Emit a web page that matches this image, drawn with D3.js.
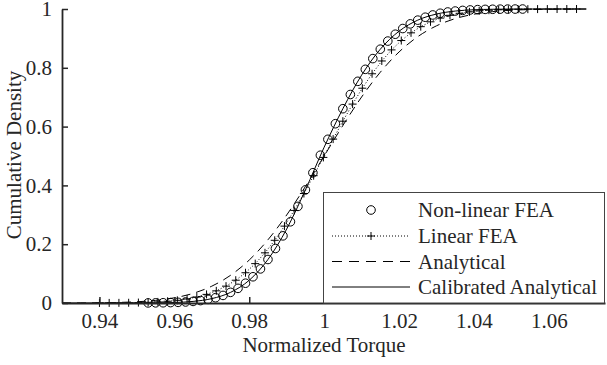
<!DOCTYPE html>
<html>
<head>
<meta charset="utf-8">
<script src="https://cdn.jsdelivr.net/npm/d3@7/dist/d3.min.js"></script>
<style>
  html, body { margin: 0; padding: 0; background: #fff; }
  svg { display: block; }
  svg text { font-family: "Liberation Serif", Tinos, "Times New Roman", Times, "Nimbus Roman", "DejaVu Serif", serif !important; fill: #262626; }
</style>
</head>
<body>
<svg id="chart" width="607" height="365"></svg>
<script>
// ---------- data ----------
const nonLinearX = [0.953,0.955,0.957,0.959,0.961,0.963,0.965,0.967,0.969,0.971,0.973,0.975,0.977,0.979,0.981,0.983,0.985,0.987,0.989,0.991,0.993,0.995,0.997,0.999,1.001,1.003,1.005,1.007,1.009,1.011,1.013,1.015,1.017,1.019,1.021,1.023,1.025,1.027,1.029,1.031,1.033,1.035,1.037,1.039,1.041,1.043,1.045,1.047,1.049,1.051,1.053];
const nonLinearY = [0.0003,0.0005,0.0008,0.0014,0.0022,0.0035,0.0054,0.0082,0.0123,0.0180,0.0258,0.0362,0.0498,0.0673,0.0892,0.1160,0.1480,0.1854,0.2284,0.2763,0.3286,0.3847,0.4431,0.5027,0.5568,0.6098,0.6609,0.7092,0.7540,0.7948,0.8313,0.8633,0.8909,0.9142,0.9336,0.9494,0.9621,0.9720,0.9797,0.9855,0.9898,0.9930,0.9952,0.9968,0.9979,0.9987,0.9991,0.9995,0.9997,0.9998,0.9999];

const linearX = [0.9400,0.9426,0.9452,0.9478,0.9504,0.9530,0.9556,0.9582,0.9608,0.9634,0.9660,0.9686,0.9712,0.9738,0.9764,0.9790,0.9816,0.9842,0.9868,0.9894,0.9920,0.9946,0.9972,0.9998,1.0024,1.0050,1.0076,1.0102,1.0128,1.0154,1.0180,1.0206,1.0232,1.0258,1.0284,1.0310,1.0336,1.0362,1.0388,1.0414,1.0440,1.0466,1.0492,1.0518,1.0544,1.0570,1.0596,1.0622,1.0648,1.0674];
const linearY = [0.0002,0.0003,0.0005,0.0008,0.0014,0.0023,0.0037,0.0059,0.0091,0.0137,0.0203,0.0293,0.0414,0.0573,0.0775,0.1029,0.1339,0.1706,0.2133,0.2615,0.3149,0.3725,0.4330,0.4952,0.5575,0.6184,0.6765,0.7306,0.7797,0.8232,0.8609,0.8927,0.9189,0.9399,0.9564,0.9691,0.9785,0.9854,0.9903,0.9937,0.9960,0.9975,0.9985,0.9991,0.9995,0.9997,0.9998,0.9999,1.0,1.0];

const curveX = [0.930,0.935,0.940,0.945,0.950,0.955,0.960,0.965,0.970,0.975,0.980,0.985,0.990,0.995,1.000,1.005,1.010,1.015,1.020,1.025,1.030,1.035,1.040,1.045,1.050,1.055,1.060,1.065,1.070];
const analyticalY = [0.0001,0.0003,0.0008,0.0019,0.0042,0.0089,0.0176,0.0327,0.0572,0.0941,0.1462,0.2150,0.2994,0.3963,0.5000,0.6037,0.7006,0.7850,0.8538,0.9059,0.9428,0.9673,0.9824,0.9911,0.9958,0.9981,0.9992,0.9997,0.9999];
const calibratedY = [0,0,0,0.00002,0.0001,0.0005,0.0017,0.0054,0.0149,0.0361,0.0774,0.1480,0.2517,0.3847,0.5298,0.6609,0.7749,0.8633,0.9244,0.9621,0.9828,0.9930,0.9974,0.9991,0.9997,0.9999,1.0,1.0,1.0];

const xTicks = [0.94,0.96,0.98,1.00,1.02,1.04,1.06];
const xTickLabels = ["0.94","0.96","0.98","1","1.02","1.04","1.06"];
const yTicks = [0,0.2,0.4,0.6,0.8,1];
const yTickLabels = ["0","0.2","0.4","0.6","0.8","1"];
const legendLabels = ["Non-linear FEA","Linear FEA","Analytical","Calibrated Analytical"];

// ---------- layout ----------
const svg = d3.select("#chart");
const mLeft = 62, mRight = 605, mTop = 9, mBottom = 303;
const x = d3.scaleLinear().domain([0.93, 1.075]).range([mLeft, mRight]);
const y = d3.scaleLinear().domain([0, 1]).range([mBottom, mTop]);
const ink = "#262626";
const FONT = '"Liberation Serif", Tinos, "Times New Roman", Times, "Nimbus Roman", "DejaVu Serif", serif';

const nl = nonLinearX.map((v,i)=>[v, nonLinearY[i]]);
const li = linearX.map((v,i)=>[v, linearY[i]]);
const an = curveX.map((v,i)=>[v, analyticalY[i]]);
const ca = curveX.map((v,i)=>[v, calibratedY[i]]);

const smooth = d3.line().x(d=>x(d[0])).y(d=>y(d[1])).curve(d3.curveMonotoneX);
const straight = d3.line().x(d=>x(d[0])).y(d=>y(d[1]));

const plot = svg.append("g");
plot.append("path").attr("d", smooth(an)).attr("fill","none").attr("stroke","#000")
  .attr("stroke-width",1).attr("stroke-dasharray","9,6");
plot.append("path").attr("d", smooth(ca)).attr("fill","none").attr("stroke","#000")
  .attr("stroke-width",1);
plot.append("path").attr("d", straight(li)).attr("fill","none").attr("stroke","#000")
  .attr("stroke-width",1).attr("stroke-dasharray","1,2");
const crossPath = "M-4,0H4M0,-4V4";
plot.selectAll(".cross").data(li).enter().append("path").attr("class","cross")
  .attr("transform", d=>`translate(${x(d[0])},${y(d[1])})`)
  .attr("d", crossPath).attr("stroke","#000").attr("stroke-width",1).attr("fill","none");
plot.selectAll(".circ").data(nl).enter().append("circle").attr("class","circ")
  .attr("cx", d=>x(d[0])).attr("cy", d=>y(d[1])).attr("r",4.3)
  .attr("fill","none").attr("stroke","#000").attr("stroke-width",1);

// ---------- axes ----------
const xAxis = d3.axisBottom(x).tickValues(xTicks).tickFormat((d,i)=>xTickLabels[i])
  .tickSizeInner(-6).tickSizeOuter(0).tickPadding(10);
const gx = svg.append("g").attr("transform",`translate(0,${mBottom})`).call(xAxis)
  .attr("font-family", FONT).attr("font-size", 21);
gx.select(".domain").attr("stroke", ink).attr("stroke-width",1.8);
gx.selectAll(".tick line").attr("stroke", ink).attr("stroke-width",1.5);
gx.selectAll(".tick text").attr("fill",ink);

const yAxis = d3.axisLeft(y).tickValues(yTicks).tickFormat((d,i)=>yTickLabels[i])
  .tickSizeInner(-6).tickSizeOuter(0).tickPadding(10);
const gy = svg.append("g").attr("transform",`translate(${mLeft},0)`).call(yAxis)
  .attr("font-family", FONT).attr("font-size", 21);
gy.select(".domain").attr("stroke", ink).attr("stroke-width",1.8);
gy.selectAll(".tick line").attr("stroke", ink).attr("stroke-width",1.5);
gy.selectAll(".tick text").attr("fill",ink);

svg.append("text").attr("x", 324).attr("y", 352).attr("text-anchor","middle")
  .attr("font-size",21).text("Normalized Torque");
svg.append("text").attr("transform","translate(21,155) rotate(-90)").attr("text-anchor","middle")
  .attr("font-size",21).text("Cumulative Density");

// ---------- legend ----------
const lg = svg.append("g");
lg.append("rect").attr("x",323.5).attr("y",192.5).attr("width",281).attr("height",110.5)
  .attr("fill","#fff").attr("stroke","#444").attr("stroke-width",1);
const rowY = [210, 236, 261.5, 287];
const sx0 = 332, sx1 = 410, smid = 371;
legendLabels.forEach((lab,i)=>{
  const ry = rowY[i];
  if (i===0) {
    lg.append("circle").attr("cx",smid).attr("cy",ry).attr("r",4.3).attr("fill","none").attr("stroke","#000");
  } else if (i===1) {
    lg.append("line").attr("x1",sx0).attr("x2",sx1).attr("y1",ry).attr("y2",ry)
      .attr("stroke","#000").attr("stroke-dasharray","1,2");
    lg.append("path").attr("transform",`translate(${smid},${ry})`).attr("d",crossPath).attr("stroke","#000");
  } else if (i===2) {
    lg.append("line").attr("x1",sx0).attr("x2",sx1).attr("y1",ry).attr("y2",ry)
      .attr("stroke","#000").attr("stroke-dasharray","10,7");
  } else {
    lg.append("line").attr("x1",sx0).attr("x2",sx1).attr("y1",ry).attr("y2",ry).attr("stroke","#000");
  }
  lg.append("text").attr("x",418).attr("y",ry+7).attr("font-size",21).text(lab);
});
</script>
</body>
</html>
